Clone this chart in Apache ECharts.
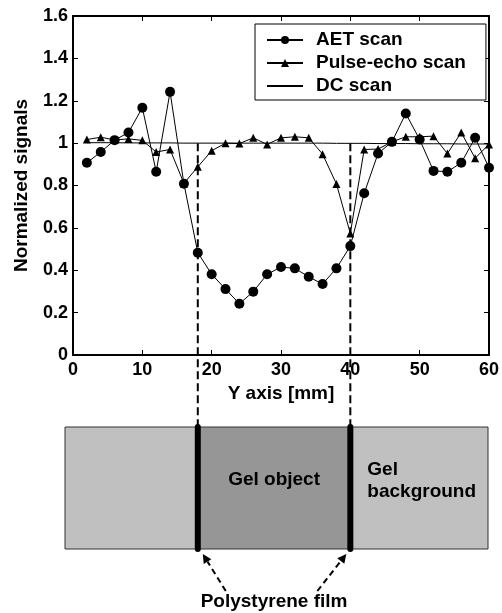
<!DOCTYPE html>
<html>
<head>
<meta charset="utf-8">
<script src="https://cdn.jsdelivr.net/npm/echarts@6/dist/echarts.min.js"></script>
<style>
  html, body { margin: 0; padding: 0; background: #fff; }
  #chart { width: 502px; height: 613px; }
</style>
</head>
<body>
<div id="chart"></div>
<script>
// scan positions along Y axis [mm]
const positions = [2, 4, 6, 8, 10, 12, 14, 16, 18, 20, 22, 24, 26, 28, 30, 32, 34, 36, 38, 40, 42, 44, 46, 48, 50, 52, 54, 56, 58, 60];
const aetScan = [0.907, 0.958, 1.014, 1.05, 1.167, 0.865, 1.242, 0.808, 0.483, 0.381, 0.311, 0.242, 0.299, 0.381, 0.415, 0.409, 0.369, 0.335, 0.409, 0.514, 0.763, 0.951, 1.006, 1.14, 1.017, 0.869, 0.865, 0.907, 1.025, 0.884];
const pulseEcho = [1.017, 1.028, 1.015, 1.02, 1.013, 0.958, 0.97, 0.81, 0.888, 0.964, 1.0, 0.998, 1.025, 0.994, 1.025, 1.03, 1.025, 0.948, 0.807, 0.574, 0.97, 0.972, 1.006, 1.03, 1.03, 1.033, 0.951, 1.05, 0.929, 0.994];
const dcScan = [1.002, 1.002, 1.002, 1.001, 1.001, 1.001, 1.001, 1.0, 1.0, 1.0, 1.0, 1.0, 1.0, 1.0, 1.0, 1.0, 1.0, 1.0, 0.999, 0.999, 0.999, 0.998, 0.998, 0.998, 0.997, 0.997, 0.997, 0.996, 0.996, 0.996];
// polystyrene film positions [mm]
const filmPositions = [18, 40];
const seriesNames = ['AET scan', 'Pulse-echo scan', 'DC scan'];

const FONT = 'Liberation Sans, Arial, sans-serif';
const chart = echarts.init(document.getElementById('chart'));

const pairs = (vals) => positions.map((x, i) => [x, vals[i]]);

const frameAxis = {
  type: 'value',
  axisLine: { show: true, onZero: false, lineStyle: { color: '#000', width: 2 } },
  axisTick: { show: true, inside: true, length: 5, lineStyle: { color: '#000', width: 1 } },
  splitLine: { show: false },
};
const boldText = (size) => ({ color: '#000', fontFamily: FONT, fontWeight: 'bold', fontSize: size });

chart.setOption({
  animation: false,
  backgroundColor: '#fff',
  grid: { left: 73, top: 16, width: 420, height: 339 },
  legend: {
    data: [
      { name: seriesNames[0] },
      { name: seriesNames[1] },
      { name: seriesNames[2], itemStyle: { opacity: 0 } },
    ],
    orient: 'vertical',
    left: 255,
    top: 24,
    padding: [6, 20, 4, 11],
    itemWidth: 36,
    itemHeight: 10,
    itemGap: 3,
    borderColor: '#000',
    borderWidth: 1,
    backgroundColor: '#fff',
    textStyle: { ...boldText(19), lineHeight: 20, padding: [0, 0, 0, 8] },
  },
  xAxis: [
    {
      ...frameAxis,
      min: 0, max: 60, interval: 10,
      name: 'Y axis [mm]',
      nameLocation: 'middle',
      nameGap: 28,
      nameTextStyle: boldText(19),
      axisLabel: { ...boldText(18), margin: 6 },
    },
    { ...frameAxis, position: 'top', min: 0, max: 60, interval: 10, axisLabel: { show: false } },
  ],
  yAxis: [
    {
      ...frameAxis,
      min: 0, max: 1.6, interval: 0.2,
      name: 'Normalized signals',
      nameLocation: 'middle',
      nameGap: 42,
      nameTextStyle: boldText(19),
      axisLabel: { ...boldText(18), margin: 5 },
    },
    { ...frameAxis, position: 'right', min: 0, max: 1.6, interval: 0.2, axisLabel: { show: false } },
  ],
  series: [
    {
      name: seriesNames[0], type: 'line', data: pairs(aetScan),
      symbol: 'circle', symbolSize: 10, showAllSymbol: true,
      itemStyle: { color: '#000' }, lineStyle: { color: '#000', width: 1 }, z: 4,
    },
    {
      name: seriesNames[1], type: 'line', data: pairs(pulseEcho),
      symbol: 'triangle', symbolSize: 8, showAllSymbol: true,
      itemStyle: { color: '#000' }, lineStyle: { color: '#000', width: 1 }, z: 3,
    },
    {
      name: seriesNames[2], type: 'line', data: pairs(dcScan),
      symbol: 'none', itemStyle: { color: '#000' }, lineStyle: { color: '#000', width: 1 }, z: 2,
    },
  ],
});

// sketch of the phantom under the plot, aligned with the x scale
const filmPx = filmPositions.map((x) => chart.convertToPixel({ xAxisIndex: 0 }, x));
const dashTop = chart.convertToPixel({ yAxisIndex: 0 }, 1.0);
const box = { left: 65, right: 488, top: 427, bottom: 549 };
const boxH = box.bottom - box.top;

const arrow = (tail, tip) => {
  const ang = Math.atan2(tip[1] - tail[1], tip[0] - tail[0]);
  const len = 9, half = 4.5;
  const base = [tip[0] - len * Math.cos(ang), tip[1] - len * Math.sin(ang)];
  const nx = -Math.sin(ang), ny = Math.cos(ang);
  return [
    { type: 'line', shape: { x1: tail[0], y1: tail[1], x2: base[0], y2: base[1] },
      style: { stroke: '#000', lineWidth: 2, lineDash: [6, 4] } },
    { type: 'polygon', shape: { points: [tip, [base[0] + nx * half, base[1] + ny * half], [base[0] - nx * half, base[1] - ny * half]] },
      style: { fill: '#000' } },
  ];
};

const textStyle = { fill: '#000', font: 'bold 19px ' + FONT };

chart.setOption({
  graphic: [
    { type: 'rect', shape: { x: box.left, y: box.top, width: filmPx[0] - box.left, height: boxH }, style: { fill: '#c0c0c0' } },
    { type: 'rect', shape: { x: filmPx[0], y: box.top, width: filmPx[1] - filmPx[0], height: boxH }, style: { fill: '#969696' } },
    { type: 'rect', shape: { x: filmPx[1], y: box.top, width: box.right - filmPx[1], height: boxH }, style: { fill: '#c0c0c0' } },
    { type: 'rect', shape: { x: box.left, y: box.top, width: box.right - box.left, height: boxH }, style: { fill: 'none', stroke: '#333', lineWidth: 1 } },
    ...filmPx.map((px) => ({
      type: 'line', shape: { x1: px, y1: box.top, x2: px, y2: box.bottom },
      style: { stroke: '#000', lineWidth: 6, lineCap: 'round' },
    })),
    ...filmPx.map((px) => ({
      type: 'line', z: 10, shape: { x1: px, y1: dashTop, x2: px, y2: box.top },
      style: { stroke: '#000', lineWidth: 2, lineDash: [8, 4] },
    })),
    { type: 'text', x: (filmPx[0] + filmPx[1]) / 2, y: 480, style: { ...textStyle, text: 'Gel object', align: 'center', verticalAlign: 'middle' } },
    { type: 'text', x: filmPx[1] + 17, y: 481, style: { ...textStyle, text: 'Gel\nbackground', lineHeight: 22, align: 'left', verticalAlign: 'middle' } },
    { type: 'text', x: (filmPx[0] + filmPx[1]) / 2, y: 602, style: { ...textStyle, text: 'Polystyrene film', align: 'center', verticalAlign: 'middle' } },
    ...arrow([filmPx[0] + 28, 591], [filmPx[0] + 5, box.bottom + 5]),
    ...arrow([filmPx[1] - 33, 591], [filmPx[1] - 4, box.bottom + 5]),
  ],
});
</script>
</body>
</html>
